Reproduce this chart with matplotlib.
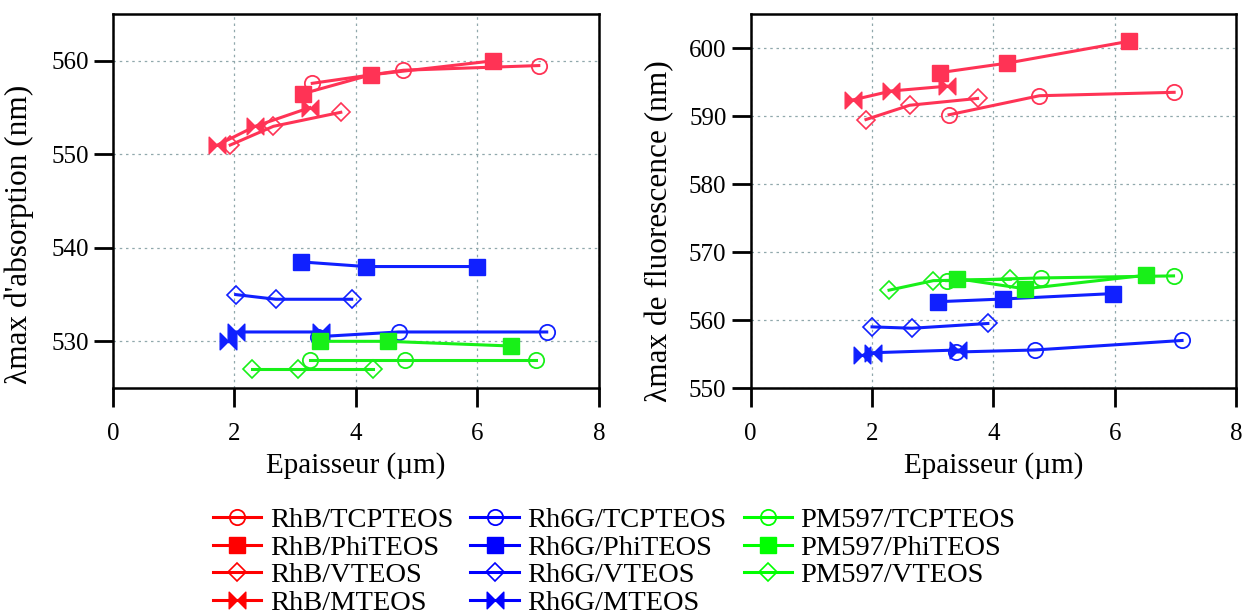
import matplotlib
matplotlib.use("Agg")
import matplotlib.pyplot as plt
from matplotlib.path import Path
from matplotlib.lines import Line2D

plt.rcParams['font.family'] = ['Liberation Serif', 'DejaVu Serif']

# ---- data: absorption (left) ----
abs_RhB_TCP_x = [3.28, 4.78, 7.01]; abs_RhB_TCP_y = [557.6, 559.0, 559.5]
abs_RhB_Phi_x = [3.13, 4.24, 6.25]; abs_RhB_Phi_y = [556.5, 558.5, 560.0]
abs_RhB_V_x = [1.93, 2.64, 3.75];   abs_RhB_V_y = [551.0, 553.0, 554.5]
abs_RhB_M_x = [1.72, 2.34, 3.24];   abs_RhB_M_y = [551.0, 553.0, 555.0]
abs_R6G_TCP_x = [3.38, 4.70, 7.14]; abs_R6G_TCP_y = [530.5, 531.0, 531.0]
abs_R6G_Phi_x = [3.09, 4.16, 5.99]; abs_R6G_Phi_y = [538.5, 538.0, 538.0]
abs_R6G_V_x = [2.02, 2.68, 3.93];   abs_R6G_V_y = [535.0, 534.5, 534.5]
abs_R6G_M_x = [1.90, 2.02, 3.42];   abs_R6G_M_y = [530.0, 531.0, 531.0]
abs_PM_TCP_x = [3.24, 4.81, 6.97];  abs_PM_TCP_y = [528.0, 528.0, 528.0]
abs_PM_Phi_x = [3.41, 4.52, 6.55];  abs_PM_Phi_y = [530.0, 530.0, 529.5]
abs_PM_V_x = [2.29, 3.04, 4.28];    abs_PM_V_y = [527.0, 527.0, 527.0]

# ---- data: fluorescence (right) ----
fl_RhB_TCP_x = [3.27, 4.76, 6.98]; fl_RhB_TCP_y = [590.2, 593.0, 593.5]
fl_RhB_Phi_x = [3.12, 4.23, 6.23]; fl_RhB_Phi_y = [596.4, 597.8, 601.0]
fl_RhB_V_x = [1.90, 2.62, 3.74];   fl_RhB_V_y = [589.5, 591.6, 592.6]
fl_RhB_M_x = [1.69, 2.32, 3.23];   fl_RhB_M_y = [592.4, 593.7, 594.4]
fl_R6G_TCP_x = [3.38, 4.68, 7.11]; fl_R6G_TCP_y = [555.3, 555.6, 557.0]
fl_R6G_Phi_x = [3.08, 4.16, 5.98]; fl_R6G_Phi_y = [562.7, 563.1, 563.9]
fl_R6G_V_x = [2.00, 2.66, 3.91];   fl_R6G_V_y = [559.0, 558.8, 559.5]
fl_R6G_M_x = [1.84, 2.02, 3.42];   fl_R6G_M_y = [554.8, 555.2, 555.6]
fl_PM_TCP_x = [3.23, 4.79, 6.97];  fl_PM_TCP_y = [565.8, 566.2, 566.5]
fl_PM_Phi_x = [3.40, 4.52, 6.52];  fl_PM_Phi_y = [566.1, 564.6, 566.6]
fl_PM_V_x = [2.28, 3.01, 4.28];    fl_PM_V_y = [564.4, 565.8, 566.0]

labels = ['RhB/TCPTEOS', 'RhB/PhiTEOS', 'RhB/VTEOS', 'RhB/MTEOS',
          'Rh6G/TCPTEOS', 'Rh6G/PhiTEOS', 'Rh6G/VTEOS', 'Rh6G/MTEOS',
          'PM597/TCPTEOS', 'PM597/PhiTEOS', 'PM597/VTEOS']
x_ticks = [0, 2, 4, 6, 8]
abs_ticks = [530, 540, 550, 560]
fl_ticks = [550, 560, 570, 580, 590, 600]

abs_series = [(abs_RhB_TCP_x, abs_RhB_TCP_y), (abs_RhB_Phi_x, abs_RhB_Phi_y),
              (abs_RhB_V_x, abs_RhB_V_y), (abs_RhB_M_x, abs_RhB_M_y),
              (abs_R6G_TCP_x, abs_R6G_TCP_y), (abs_R6G_Phi_x, abs_R6G_Phi_y),
              (abs_R6G_V_x, abs_R6G_V_y), (abs_R6G_M_x, abs_R6G_M_y),
              (abs_PM_TCP_x, abs_PM_TCP_y), (abs_PM_Phi_x, abs_PM_Phi_y),
              (abs_PM_V_x, abs_PM_V_y)]
fl_series = [(fl_RhB_TCP_x, fl_RhB_TCP_y), (fl_RhB_Phi_x, fl_RhB_Phi_y),
             (fl_RhB_V_x, fl_RhB_V_y), (fl_RhB_M_x, fl_RhB_M_y),
             (fl_R6G_TCP_x, fl_R6G_TCP_y), (fl_R6G_Phi_x, fl_R6G_Phi_y),
             (fl_R6G_V_x, fl_R6G_V_y), (fl_R6G_M_x, fl_R6G_M_y),
             (fl_PM_TCP_x, fl_PM_TCP_y), (fl_PM_Phi_x, fl_PM_Phi_y),
             (fl_PM_V_x, fl_PM_V_y)]

bowtie = Path([(-1, 1), (-1, -1), (0, 0), (-1, 1), (1, 1), (1, -1), (0, 0), (1, 1)],
              [Path.MOVETO, Path.LINETO, Path.LINETO, Path.CLOSEPOLY,
               Path.MOVETO, Path.LINETO, Path.LINETO, Path.CLOSEPOLY])

plot_colors = ['#ff3355'] * 4 + ['#1020ff'] * 4 + ['#18f018'] * 3
leg_colors = ['#ff0000'] * 4 + ['#0000ff'] * 4 + ['#00ff00'] * 3
kinds = ['o', 's', 'D', 'M'] * 2 + ['o', 's', 'D']


def style(kind, color):
    if kind == 'o':
        return dict(marker='o', ms=11, mfc='none', mec=color, mew=1.3)
    if kind == 's':
        return dict(marker='s', ms=11, mfc=color, mec=color, mew=1)
    if kind == 'D':
        return dict(marker='D', ms=9.5, mfc='none', mec=color, mew=1.2)
    return dict(marker=bowtie, ms=12, mfc=color, mec=color, mew=1)


fig = plt.figure(figsize=(12.46, 6.15), dpi=100)
axL = fig.add_axes([0.0907, 0.369, 0.390, 0.608])
axR = fig.add_axes([0.6025, 0.369, 0.3895, 0.608])

for ax, series in ((axL, abs_series), (axR, fl_series)):
    for (x, y), c, k in zip(series, plot_colors, kinds):
        ax.plot(x, y, '-', color=c, lw=2.2, **style(k, c))
    ax.set_xlim(0, 8)
    ax.set_xticks(x_ticks)
    ax.grid(True, ls=(0, (2, 3)), color='#90a8ac', lw=0.9)
    ax.set_axisbelow(True)
    for s in ax.spines.values():
        s.set_linewidth(1.8)
    ax.tick_params(direction='out', length=13.5, width=2, labelsize=18,
                   top=False, right=False)
    ax.tick_params(axis='x', pad=12)
    ax.tick_params(axis='y', pad=4)
    ax.set_xlabel('Epaisseur (µm)', fontsize=21)
    ax.xaxis.set_label_coords(0.5, -0.171)

axL.set_ylim(525, 565)
axL.set_yticks(abs_ticks)
axR.set_ylim(550, 605)
axR.set_yticks(fl_ticks)
axL.set_ylabel("λmax d'absorption (nm)", fontsize=22.5)
axR.set_ylabel("λmax de fluorescence (nm)", fontsize=22.5)
axL.yaxis.set_label_coords((34 - 113) / 486.0, 0.41)
axR.yaxis.set_label_coords((674 - 750.7) / 485.3, 0.42)

handles = [Line2D([], [], color=c, lw=2.2, **style(k, c)) for c, k in zip(leg_colors, kinds)]
fig.legend(handles, labels, loc='upper center', bbox_to_anchor=(0.493, 0.2125),
           bbox_transform=fig.transFigure, ncol=3, frameon=False, fontsize=20.5,
           handlelength=1.7, columnspacing=0.6, labelspacing=0.06, handletextpad=0.3,
           borderpad=0.3)

fig.savefig('out.png', dpi=100)
